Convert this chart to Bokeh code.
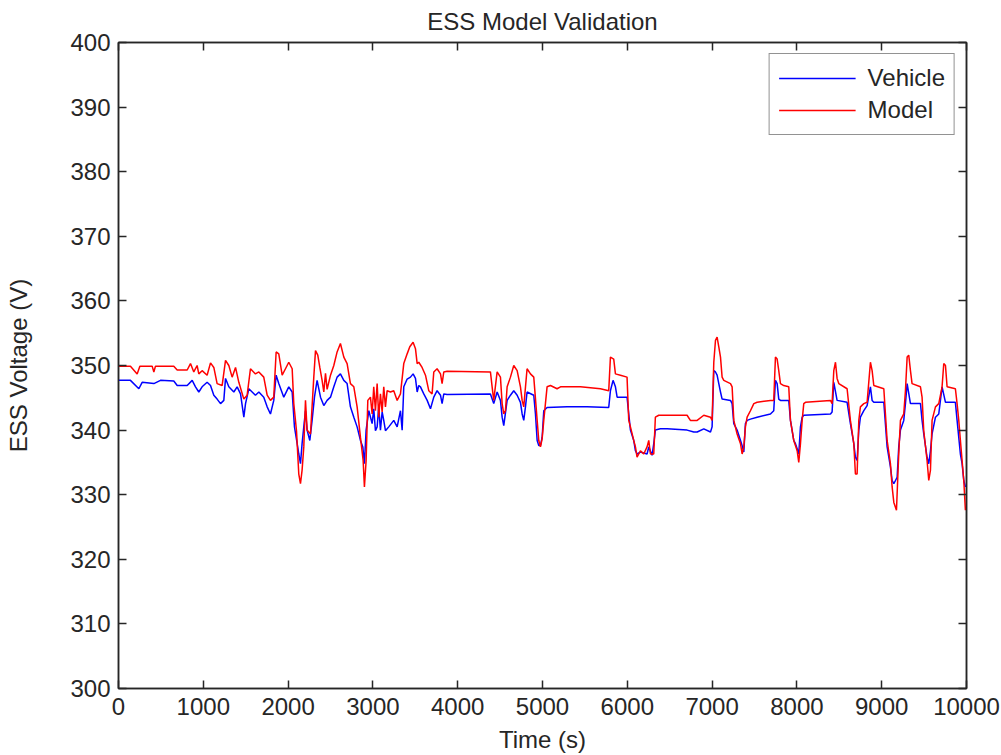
from bokeh.plotting import figure
from bokeh.models import LinearAxis, Range1d, FixedTicker, Legend, LegendItem, CustomJSTickFormatter
from bokeh.embed import file_html
from bokeh.resources import INLINE

# ---- data (time in s, voltage in V) ----
vehicle_t = [0, 141, 240, 279, 417, 495, 652, 692, 810, 869, 908, 947, 986, 1045, 1085, 1124, 1163, 1203,
             1242, 1262, 1301, 1360, 1399, 1439, 1478, 1498, 1537, 1576, 1615, 1655, 1713, 1753, 1792, 1831,
             1859, 1890, 1949, 2008, 2048, 2075, 2107, 2126, 2146, 2165, 2185, 2205, 2224, 2256, 2283, 2311,
             2342, 2382, 2421, 2460, 2500, 2539, 2578, 2617, 2657, 2696, 2735, 2775, 2814, 2853, 2881, 2900,
             2920, 2952, 2991, 3010, 3030, 3050, 3069, 3089, 3109, 3128, 3148, 3187, 3246, 3286, 3325, 3345,
             3364, 3404, 3443, 3474, 3502, 3522, 3541, 3561, 3600, 3640, 3679, 3718, 3757, 3797, 3816, 3836,
             3875, 4386, 4425, 4465, 4504, 4524, 4543, 4583, 4622, 4661, 4701, 4740, 4760, 4779, 4799, 4818,
             4897, 4917, 4937, 4956, 4976, 4996, 5015, 5054, 5290, 5526, 5781, 5801, 5832, 5860, 5880, 5997,
             6017, 6037, 6076, 6096, 6115, 6155, 6233, 6253, 6292, 6312, 6331, 6390, 6469, 6705, 6784, 6824,
             6902, 6981, 7000, 7020, 7040, 7059, 7079, 7099, 7118, 7217, 7236, 7256, 7295, 7335, 7354, 7374,
             7393, 7413, 7452, 7531, 7688, 7727, 7747, 7767, 7786, 7806, 7904, 7924, 7963, 7983, 8003, 8022,
             8042, 8062, 8081, 8396, 8415, 8435, 8474, 8592, 8631, 8671, 8690, 8710, 8730, 8749, 8789, 8828,
             8867, 8887, 8907, 9025, 9064, 9103, 9123, 9143, 9182, 9201, 9221, 9260, 9280, 9300, 9339, 9457,
             9476, 9496, 9535, 9555, 9575, 9594, 9634, 9673, 9712, 9752, 9869, 9889, 9928, 9948, 9968, 9987]
vehicle_v = [347.7, 347.7, 346.4, 347.4, 347.2, 347.7, 347.6, 346.9, 346.9, 347.7, 346.7, 345.9, 346.7, 347.4,
             346.9, 345.4, 344.8, 344.1, 344.6, 348.0, 346.7, 345.9, 346.7, 345.6, 342.0, 344.1, 346.4, 345.9,
             345.4, 345.9, 345.1, 343.6, 342.5, 344.6, 348.5, 347.2, 345.1, 346.7, 345.9, 340.5, 337.9, 336.3,
             334.8, 337.9, 340.5, 343.0, 340.0, 338.4, 341.5, 345.1, 347.7, 345.1, 343.8, 344.6, 345.1, 346.7,
             348.2, 348.7, 347.7, 347.2, 343.6, 342.0, 340.5, 338.4, 337.4, 334.8, 340.0, 343.0, 341.0, 343.3,
             339.9, 340.5, 343.6, 340.0, 342.8, 341.5, 339.9, 340.5, 341.5, 340.5, 343.0, 340.0, 346.7, 347.9,
             348.2, 348.7, 348.0, 345.9, 346.9, 346.7, 345.6, 344.6, 343.3, 345.1, 346.1, 345.4, 344.1, 345.6,
             345.5, 345.6, 344.1, 345.9, 344.6, 342.0, 340.7, 344.6, 345.4, 346.1, 345.4, 344.3, 342.5, 341.5,
             343.6, 345.9, 345.4, 342.5, 338.4, 337.6, 337.6, 338.9, 343.0, 343.5, 343.6, 343.6, 343.5, 346.1,
             347.7, 346.7, 345.1, 345.1, 342.5, 340.0, 338.4, 336.8, 336.3, 336.6, 336.3, 337.4, 336.1, 337.9,
             340.0, 340.2, 340.2, 340.0, 339.7, 339.7, 340.2, 339.7, 340.5, 349.2, 349.0, 348.5, 347.2, 345.9,
             344.8, 344.6, 344.1, 341.0, 340.0, 338.4, 337.6, 336.6, 341.0, 341.5, 341.7, 342.0, 342.5, 343.0,
             347.7, 347.2, 344.8, 344.6, 344.6, 341.5, 338.4, 337.9, 337.1, 336.3, 340.5, 342.0, 342.3, 342.5,
             342.8, 347.4, 344.6, 344.3, 341.0, 337.9, 335.8, 335.3, 340.0, 342.0, 343.0, 343.8, 346.7, 344.6,
             344.3, 344.3, 337.4, 334.3, 332.2, 331.7, 332.7, 337.4, 340.0, 341.5, 344.1, 347.2, 344.1, 344.1,
             341.5, 339.4, 335.8, 334.8, 336.8, 339.4, 342.0, 342.5, 346.7, 344.3, 344.3, 341.5, 336.3, 334.8,
             332.2, 331.2]

model_t = [0, 141, 220, 252, 397, 417, 436, 652, 692, 810, 849, 888, 927, 947, 986, 1045, 1085, 1124, 1163,
           1222, 1262, 1301, 1340, 1380, 1419, 1478, 1517, 1556, 1615, 1655, 1713, 1753, 1792, 1831, 1859,
           1890, 1930, 1969, 2008, 2048, 2067, 2099, 2126, 2146, 2165, 2185, 2205, 2224, 2264, 2303, 2323,
           2350, 2374, 2401, 2421, 2441, 2460, 2500, 2539, 2578, 2617, 2657, 2696, 2735, 2775, 2814, 2853,
           2885, 2900, 2920, 2940, 2971, 2991, 3010, 3030, 3050, 3069, 3089, 3109, 3128, 3148, 3168, 3207,
           3246, 3286, 3325, 3364, 3404, 3435, 3474, 3502, 3522, 3541, 3580, 3620, 3659, 3698, 3718, 3757,
           3797, 3816, 3836, 3875, 4386, 4406, 4425, 4465, 4504, 4524, 4543, 4563, 4583, 4622, 4661, 4701,
           4740, 4760, 4779, 4818, 4858, 4897, 4937, 4956, 4976, 4996, 5015, 5054, 5094, 5172, 5212, 5447,
           5683, 5781, 5801, 5840, 5860, 5919, 5997, 6017, 6037, 6076, 6096, 6115, 6155, 6194, 6233, 6253,
           6273, 6312, 6331, 6371, 6469, 6705, 6744, 6824, 6902, 6981, 7000, 7020, 7040, 7059, 7079, 7099,
           7118, 7138, 7217, 7236, 7256, 7295, 7335, 7354, 7374, 7393, 7413, 7452, 7492, 7531, 7688, 7727,
           7747, 7767, 7786, 7806, 7845, 7904, 7924, 7963, 8003, 8022, 8042, 8062, 8081, 8101, 8396, 8415,
           8435, 8455, 8474, 8494, 8592, 8631, 8671, 8690, 8710, 8730, 8749, 8789, 8828, 8867, 8887, 8907,
           9025, 9064, 9103, 9123, 9143, 9174, 9201, 9221, 9260, 9280, 9300, 9319, 9339, 9358, 9457, 9476,
           9496, 9535, 9555, 9575, 9594, 9634, 9673, 9712, 9732, 9752, 9771, 9869, 9889, 9909, 9928, 9948,
           9968, 9987]
model_v = [349.9, 349.9, 348.7, 349.9, 349.9, 349.0, 349.9, 349.9, 349.3, 349.3, 350.3, 349.0, 350.0, 348.7,
           349.2, 348.5, 350.4, 349.7, 347.2, 346.9, 350.8, 350.0, 348.2, 349.7, 347.4, 344.8, 345.4, 349.5,
           348.7, 349.0, 348.2, 345.4, 344.6, 345.1, 352.1, 351.8, 348.5, 349.5, 350.5, 349.5, 344.1, 339.9,
           333.2, 331.7, 333.8, 337.4, 344.6, 340.0, 339.4, 348.2, 352.3, 351.6, 349.7, 347.7, 345.9, 348.8,
           346.3, 348.5, 350.0, 352.1, 353.4, 351.3, 350.3, 347.2, 346.7, 343.6, 338.9, 335.3, 331.2, 335.3,
           344.6, 345.1, 342.5, 346.7, 343.0, 347.2, 342.0, 345.6, 342.8, 346.7, 343.6, 346.1, 345.9, 346.1,
           344.6, 345.6, 350.3, 351.8, 352.9, 353.6, 352.6, 350.3, 350.5, 349.7, 348.5, 346.1, 345.6, 349.0,
           349.5, 348.7, 347.2, 349.0, 349.1, 349.0, 346.7, 344.6, 349.0, 348.2, 344.1, 342.5, 343.0, 346.7,
           348.2, 350.0, 349.2, 346.7, 344.6, 343.6, 349.5, 348.7, 348.2, 341.5, 338.4, 337.4, 338.7, 341.5,
           346.7, 346.9, 346.4, 346.7, 346.7, 346.4, 346.1, 351.3, 351.0, 348.7, 348.5, 348.2, 341.5, 340.5,
           338.4, 337.4, 335.8, 336.8, 336.3, 337.4, 338.4, 336.3, 336.3, 342.0, 342.3, 342.3, 342.3, 341.5,
           341.5, 342.3, 342.0, 341.5, 350.5, 353.9, 354.4, 352.9, 351.3, 348.2, 347.7, 347.2, 346.7, 341.5,
           339.4, 337.9, 336.3, 337.4, 340.5, 342.0, 343.0, 344.1, 344.3, 344.6, 344.6, 351.3, 351.0, 349.2,
           347.2, 346.9, 346.7, 341.5, 338.4, 336.8, 335.0, 337.9, 341.5, 344.1, 344.3, 344.6, 344.1, 349.2,
           350.5, 348.0, 347.2, 346.4, 341.5, 337.9, 333.2, 333.2, 341.5, 343.6, 344.1, 344.3, 350.5, 349.2,
           346.9, 346.4, 338.4, 334.8, 331.2, 328.8, 327.6, 336.3, 341.5, 342.5, 346.1, 351.3, 351.6, 349.2,
           347.2, 346.7, 345.1, 339.9, 335.3, 332.2, 333.8, 341.5, 343.6, 344.1, 346.7, 350.3, 350.0, 346.7,
           346.4, 344.1, 341.5, 338.4, 335.3, 332.2, 327.6]

x_ticks = [0, 1000, 2000, 3000, 4000, 5000, 6000, 7000, 8000, 9000, 10000]
y_ticks = [300, 310, 320, 330, 340, 350, 360, 370, 380, 390, 400]

FONT = "Liberation Sans"
TXT = "#262626"
FS = "24px"

p = figure(width=1001, height=755, output_backend="svg", toolbar_location=None,
           x_range=Range1d(0, 10000), y_range=Range1d(300, 400),
           min_border_left=118, min_border_right=35, min_border_top=42, min_border_bottom=67,
           x_axis_label="Time (s)", y_axis_label="ESS Voltage (V)")
p.title.text = "ESS Model Validation"
p.title.align = "center"
p.title.vertical_align = "top"
p.title.text_font = FONT
p.title.text_font_size = FS
p.title.text_font_style = "normal"
p.title.text_color = TXT
p.title.standoff = 12
p.grid.visible = False
p.outline_line_color = TXT
p.outline_line_width = 1.5

for ax in (p.xaxis[0], p.yaxis[0]):
    ax.axis_label_text_font = FONT
    ax.axis_label_text_font_size = FS
    ax.axis_label_text_font_style = "normal"
    ax.axis_label_text_color = TXT
    ax.major_label_text_font = FONT
    ax.major_label_text_font_size = FS
    ax.major_label_text_color = TXT
    ax.major_tick_in = 8
    ax.major_tick_out = 0
    ax.minor_tick_in = 0
    ax.minor_tick_out = 0
    ax.axis_line_color = TXT
    ax.axis_line_width = 1.5
    ax.major_tick_line_color = TXT
    ax.major_tick_line_width = 1.5
p.xaxis[0].ticker = FixedTicker(ticks=x_ticks)
p.yaxis[0].ticker = FixedTicker(ticks=y_ticks)
p.xaxis[0].major_label_standoff = 9
p.xaxis[0].axis_label_standoff = 8
p.yaxis[0].major_label_standoff = 8
p.yaxis[0].axis_label_standoff = 35

# mirrored ticks on top and right (no labels, no space taken)
for side, tick in (("above", x_ticks), ("right", y_ticks)):
    ax = LinearAxis(ticker=FixedTicker(ticks=tick),
                    formatter=CustomJSTickFormatter(code="return ''"),
                    major_label_text_font_size="0px",
                    major_tick_in=8, major_tick_out=0, minor_tick_in=0, minor_tick_out=0,
                    major_label_standoff=0, axis_line_color=TXT, axis_line_width=1.5,
                    major_tick_line_color=TXT, major_tick_line_width=1.5)
    p.add_layout(ax, side)

r_vehicle = p.line(vehicle_t, vehicle_v, line_color="#0000ff", line_width=1.5)
r_model = p.line(model_t, model_v, line_color="#ff0000", line_width=1.5)

legend = Legend(items=[LegendItem(label="Vehicle", renderers=[r_vehicle]),
                       LegendItem(label="Model", renderers=[r_model])],
                location="top_right", margin=11, padding=9, spacing=2,
                glyph_width=77, glyph_height=30, label_height=30, label_standoff=12,
                label_text_font=FONT, label_text_font_size=FS, label_text_color=TXT,
                border_line_color=TXT, border_line_width=1.5, background_fill_alpha=1.0)
p.add_layout(legend, "center")

open("out.html", "w").write(file_html(p, INLINE))
